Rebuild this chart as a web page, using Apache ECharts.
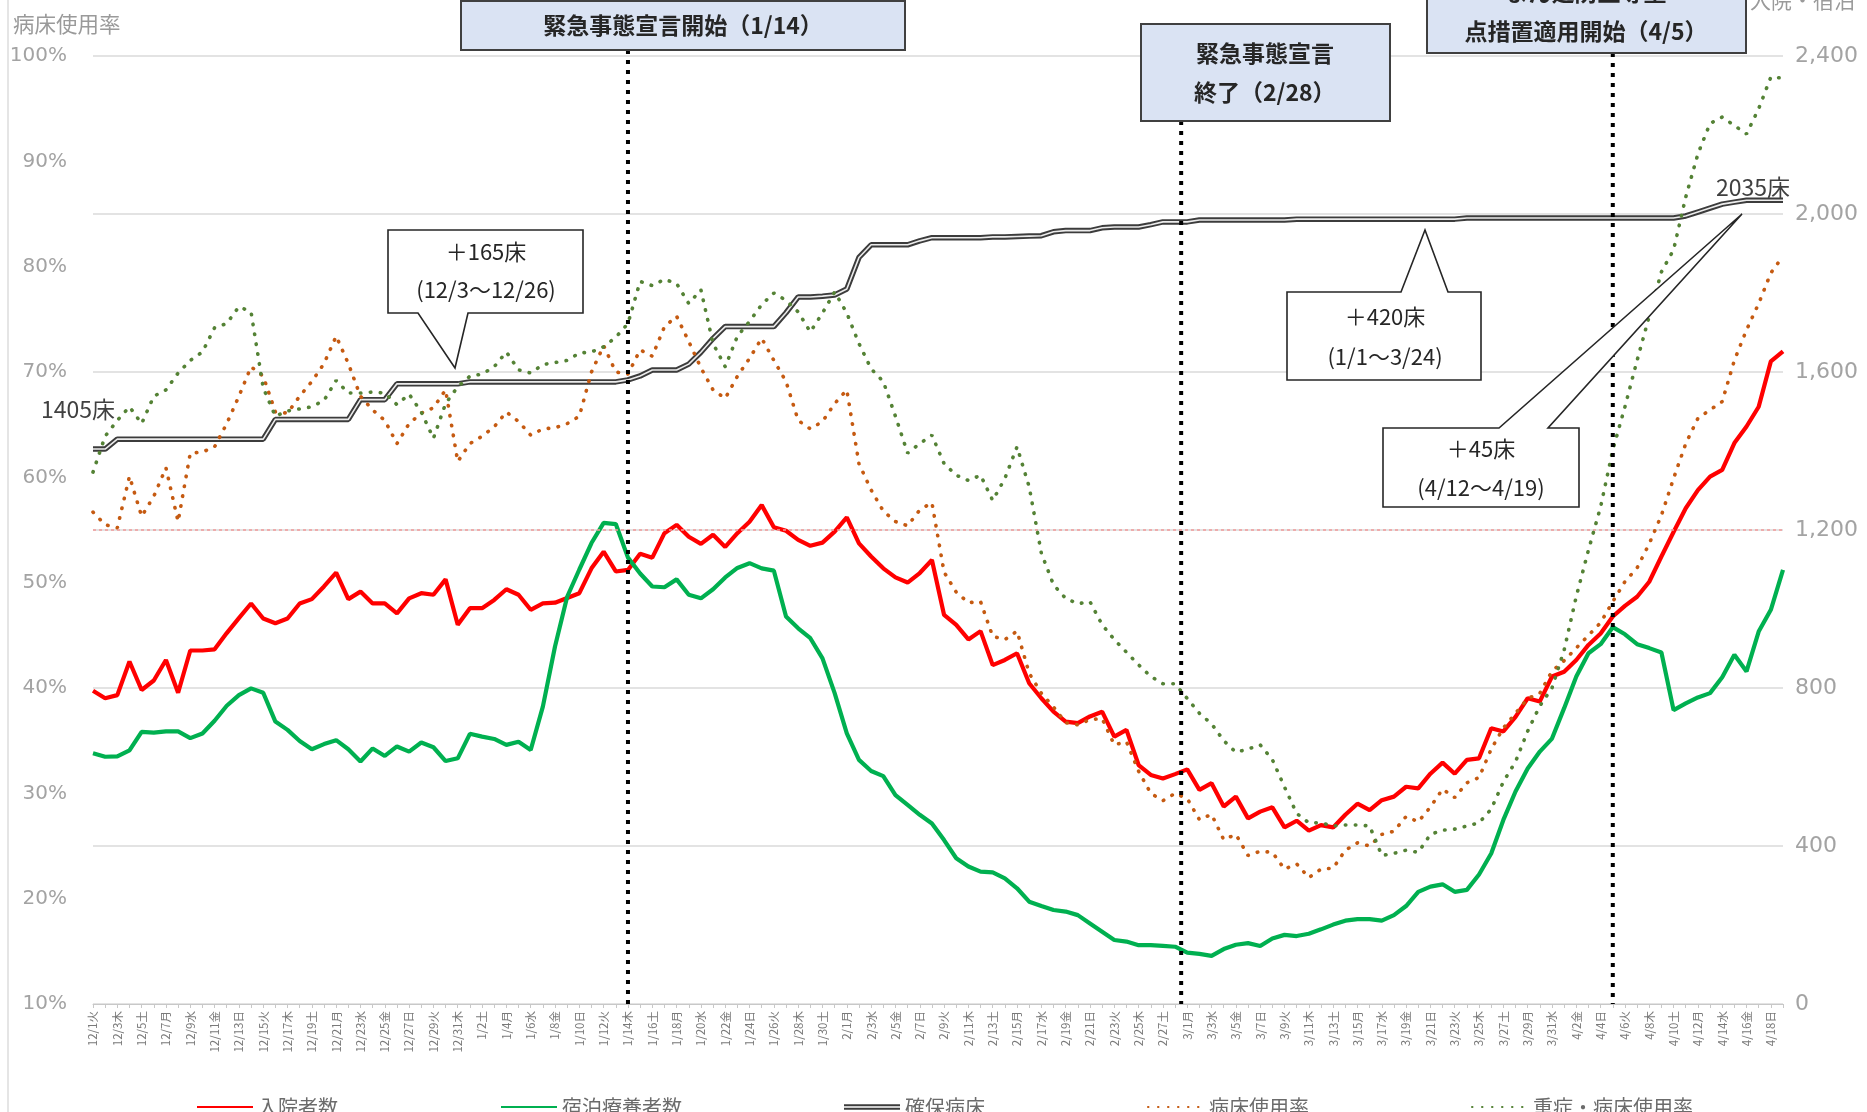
<!DOCTYPE html>
<html>
<head>
<meta charset="utf-8">
<script src="https://cdn.jsdelivr.net/npm/echarts@6/dist/echarts.min.js"></script>
<style>
html,body{margin:0;padding:0;background:#ffffff;}
#chart{width:1867px;height:1112px;}
</style>
</head>
<body>
<div id="chart"></div>
<script>
// ---- categories (x-axis tick labels) ----
const categories = [
'12/1火','12/2水','12/3木','12/4金','12/5土','12/6日','12/7月','12/8火','12/9水','12/10木','12/11金','12/12土','12/13日','12/14月','12/15火','12/16水','12/17木','12/18金','12/19土','12/20日','12/21月','12/22火','12/23水','12/24木','12/25金','12/26土','12/27日','12/28月','12/29火','12/30水','12/31木',
'1/1金','1/2土','1/3日','1/4月','1/5火','1/6水','1/7木','1/8金','1/9土','1/10日','1/11月','1/12火','1/13水','1/14木','1/15金','1/16土','1/17日','1/18月','1/19火','1/20水','1/21木','1/22金','1/23土','1/24日','1/25月','1/26火','1/27水','1/28木','1/29金','1/30土','1/31日',
'2/1月','2/2火','2/3水','2/4木','2/5金','2/6土','2/7日','2/8月','2/9火','2/10水','2/11木','2/12金','2/13土','2/14日','2/15月','2/16火','2/17水','2/18木','2/19金','2/20土','2/21日','2/22月','2/23火','2/24水','2/25木','2/26金','2/27土','2/28日',
'3/1月','3/2火','3/3水','3/4木','3/5金','3/6土','3/7日','3/8月','3/9火','3/10水','3/11木','3/12金','3/13土','3/14日','3/15月','3/16火','3/17水','3/18木','3/19金','3/20土','3/21日','3/22月','3/23火','3/24水','3/25木','3/26金','3/27土','3/28日','3/29月','3/30火','3/31水',
'4/1木','4/2金','4/3土','4/4日','4/5月','4/6火','4/7水','4/8木','4/9金','4/10土','4/11日','4/12月','4/13火','4/14水','4/15木','4/16金','4/17土','4/18日','4/19月'
];

// ---- series values ----
// 入院者数 (right axis, persons)
const hospitalized = [
793,774,782,867,795,819,871,788,895,895,
898,939,977,1014,976,964,976,1014,1025,1057,
1092,1025,1044,1014,1014,989,1027,1040,1036,1075,
960,1002,1002,1023,1050,1036,998,1014,1016,1028,
1040,1103,1145,1095,1099,
1140,1130,1192,1213,1183,
1165,1188,1157,1192,1221,1263,1207,1198,1175,1160,
1168,1196,1232,1166,1133,1103,1080,1067,1091,
1124,985,960,923,944,858,871,888,812,774,740,
715,711,728,740,677,694,605,580,571,582,594,
542,559,500,525,470,487,498,447,464,
439,453,447,479,507,491,516,525,550,546,
583,611,583,618,622,698,690,727,774,766,
829,841,871,909,938,981,1008,1031,1069,1133,
1195,1255,1301,1335,1352,1420,1462,1512,1627,1652
];
// 宿泊療養者数 (right axis, persons)
const hotelCare = [
635,626,627,642,689,687,690,690,673,685,
717,755,782,799,788,715,694,666,645,658,
668,645,614,647,628,652,639,662,650,615,
622,684,677,671,656,664,643,753,905,1031,
1100,1167,1218,1215,1130,
1090,1057,1055,1075,1036,
1027,1050,1080,1104,1116,1103,1097,981,951,926,
875,787,685,618,590,577,529,504,479,
457,415,369,348,335,333,318,293,259,248,238,
234,225,204,183,162,158,149,149,147,145,130,
127,122,139,150,154,147,166,175,172,
178,189,201,211,215,215,211,225,248,284,
297,303,284,289,328,381,466,538,596,639,
672,749,829,888,911,954,936,911,901,890,
744,761,776,787,827,884,842,943,998,1099
];
// 確保病床 (right axis, beds)
const securedBeds = [
1405,1405,1430,1430,1430,1430,1430,1430,1430,1430,
1430,1430,1430,1430,1430,1480,1480,1480,1480,1480,
1480,1480,1530,1530,1530,1570,1570,1570,1570,1570,
1570,1575,1575,1575,1575,1575,1575,1575,1575,1575,
1575,1575,1575,1575,1580,
1590,1605,1605,1605,1620,
1650,1685,1715,1715,1715,1715,1715,1750,1790,1790,
1792,1795,1810,1890,1922,1922,1922,1922,1932,
1940,1940,1940,1940,1940,1942,1942,1943,1944,1945,1955,
1958,1958,1958,1965,1967,1967,1967,1973,1980,1980,1980,
1985,1985,1985,1985,1985,1985,1985,1985,1987,
1987,1987,1987,1987,1987,1987,1987,1987,1987,1987,
1987,1987,1987,1990,1990,1990,1990,1990,1990,1990,
1990,1990,1990,1990,1990,1990,1990,1990,1990,1990,
1990,1995,2005,2015,2025,2030,2035,2035,2035,2035
];
// 病床使用率 (left axis, %)
const bedUseRate = [
56.7,55.5,55.2,60.1,56.3,58.2,60.9,55.8,62.3,62.4,
62.9,65.1,67.7,70.5,69.6,66.2,66.1,67.7,69.1,70.8,
73.4,70.8,67.7,66.4,65.4,63.2,65.1,66.1,66.6,68.3,
61.5,63.2,63.9,64.8,66.2,65.3,64.0,64.6,64.7,65.1,
65.8,70.0,72.5,70.0,69.8,
72.1,71.5,74.3,75.3,72.9,
70.4,68.3,67.5,69.6,71.3,73.2,71.1,69.1,65.4,64.6,
65.3,67.0,68.3,61.3,58.8,56.8,55.8,55.4,56.9,
57.6,51.0,49.1,48.1,48.2,44.9,44.6,45.4,41.4,39.5,38.2,
36.7,36.5,37.0,37.1,34.6,34.9,32.1,30.0,29.3,30.0,29.5,
27.5,28.0,25.6,26.1,24.1,24.5,24.4,22.8,23.3,
22.0,22.8,22.9,24.6,25.3,25.0,26.1,26.4,27.8,27.3,
28.7,30.4,29.6,31.0,31.5,34.2,36.2,37.6,39.0,39.5,
41.6,42.6,43.8,45.0,46.2,48.2,50.1,51.4,53.7,56.4,
59.9,63.2,65.6,66.4,67.2,71.1,74.0,76.5,79.4,81.0
];
// 重症・病床使用率 (left axis, %)
const severeUseRate = [
60.5,63.9,65.4,66.7,65.1,67.7,68.3,69.9,71.1,71.9,
74.2,74.6,76.2,75.7,68.5,65.8,66.3,66.5,66.7,67.3,
69.2,68.0,68.0,68.1,68.0,66.9,67.9,66.2,63.7,67.0,
68.6,69.6,69.8,70.5,71.9,70.2,69.9,70.7,70.9,71.1,
71.8,71.9,72.4,73.3,74.6,
78.6,78.2,78.8,78.4,76.5,
77.8,72.7,70.5,73.4,74.8,76.4,77.5,76.8,75.7,73.8,
75.6,77.6,75.6,72.7,70.3,69.1,65.8,62.3,63.2,
64.0,61.3,60.2,59.7,60.2,57.8,59.9,62.9,59.1,52.8,49.8,
48.5,48.0,48.2,46.0,44.6,43.4,42.2,41.1,40.4,40.4,39.0,
37.6,36.6,35.0,33.9,34.2,34.6,33.2,30.6,28.1,
27.2,27.2,26.9,27.0,27.0,26.9,24.1,24.3,24.6,24.4,
26.1,26.5,26.6,26.9,27.2,28.5,31.1,33.0,35.9,38.3,
40.0,43.6,48.7,53.1,57.2,62.6,66.7,71.1,75.3,79.5,
81.6,86.6,90.7,93.6,94.2,93.4,92.6,95.0,98.0,97.9
];

// ---- axis ticks ----
const leftTicks = {min: 10, max: 100, interval: 10};
const rightTicks = {min: 0, max: 2400, interval: 400};
const thresholdLine = 1200;

// ---- annotation dates (category labels) ----
const eventDates = ['1/14木', '2/28日', '4/5月'];

const FONT = '"Noto Sans CJK JP", "Noto Sans", sans-serif';
const NUMFONT = '"DejaVu Sans", "Noto Sans", sans-serif';
const chart = echarts.init(document.getElementById('chart'), null, {renderer: 'canvas'});

const dottedStyle = (color) => ({color: color, width: 3.6, type: [0.5, 9.5], cap: 'round'});

const option = {
  animation: false,
  backgroundColor: '#ffffff',
  textStyle: {fontFamily: FONT},
  grid: {left: 93, right: 84, top: 56, bottom: 108},
  legend: {
    left: 191, top: 1092,
    itemGap: 162, itemWidth: 56, itemHeight: 10,
    itemStyle: {opacity: 0},
    textStyle: {fontSize: 20, color: '#6b6b6b', fontFamily: FONT},
    data: [
      {name: '入院者数'},
      {name: '宿泊療養者数'},
      {name: '確保病床', icon: 'path://M0,0H100V3.5H0Z M0,6.5H100V10H0Z', itemStyle: {opacity: 1}},
      {name: '病床使用率'},
      {name: '重症・病床使用率'}
    ]
  },
  xAxis: {
    type: 'category',
    data: categories,
    boundaryGap: false,
    axisLine: {lineStyle: {color: '#c8c8c8', width: 1}},
    axisTick: {show: true, interval: 0, length: 4, lineStyle: {color: '#c8c8c8'}},
    axisLabel: {interval: 1, rotate: 90, fontSize: 11.5, color: '#7a7a7a', margin: 7, fontFamily: FONT},
    splitLine: {show: false}
  },
  yAxis: [
    {
      type: 'value', position: 'left',
      min: leftTicks.min, max: leftTicks.max, interval: leftTicks.interval,
      axisLine: {show: false}, axisTick: {show: false}, splitLine: {show: false},
      axisLabel: {formatter: '{value}%', fontSize: 20, color: '#a3a3a3', margin: 26, fontFamily: NUMFONT}
    },
    {
      type: 'value', position: 'right',
      min: rightTicks.min, max: rightTicks.max, interval: rightTicks.interval,
      axisLine: {show: false}, axisTick: {show: false},
      splitLine: {show: true, lineStyle: {color: '#dadada', width: 1.5}},
      axisLabel: {
        formatter: (v) => v.toLocaleString('en-US'),
        fontSize: 22, color: '#a3a3a3', margin: 12, fontFamily: NUMFONT
      }
    }
  ],
  series: [
    {
      name: '入院者数', type: 'line', yAxisIndex: 1, data: hospitalized,
      symbol: 'none', z: 3,
      lineStyle: {color: '#ff0000', width: 4.2}, itemStyle: {color: '#ff0000'},
      markLine: {
        silent: true, symbol: ['none', 'none'], label: {show: false},
        lineStyle: {color: '#f29a9a', type: [3, 3], width: 1.5},
        data: [{yAxis: thresholdLine}]
      }
    },
    {
      name: '宿泊療養者数', type: 'line', yAxisIndex: 1, data: hotelCare,
      symbol: 'none', z: 3,
      lineStyle: {color: '#00b050', width: 4.2}, itemStyle: {color: '#00b050'}
    },
    {
      name: '確保病床', type: 'line', yAxisIndex: 1, data: securedBeds,
      symbol: 'none', z: 4,
      lineStyle: {color: '#3c3c3c', width: 5.5}, itemStyle: {color: '#3c3c3c'}
    },
    {
      name: '確保病床(内)', type: 'line', yAxisIndex: 1, data: securedBeds,
      symbol: 'none', z: 5, silent: true,
      lineStyle: {color: '#ececec', width: 1.6}, itemStyle: {color: '#ececec'}
    },
    {
      name: '病床使用率', type: 'line', yAxisIndex: 0, data: bedUseRate,
      symbol: 'none', z: 6,
      lineStyle: dottedStyle('#c55a11'), itemStyle: {color: '#c55a11'}
    },
    {
      name: '重症・病床使用率', type: 'line', yAxisIndex: 0, data: severeUseRate,
      symbol: 'none', z: 6,
      lineStyle: dottedStyle('#548235'), itemStyle: {color: '#548235'}
    }
  ]
};
chart.setOption(option);

// ---- annotations ----
const xFirst = chart.convertToPixel({xAxisIndex: 0}, categories[0]);
const xLast = chart.convertToPixel({xAxisIndex: 0}, categories[categories.length - 1]);
const xAt = (i) => xFirst + (xLast - xFirst) * i / (categories.length - 1);
const yBottom = chart.convertToPixel({yAxisIndex: 1}, rightTicks.min);

const txt = (x, y, text, size, extra) => ({
  type: 'text', x: x, y: y, z: 120,
  style: Object.assign({
    text: text, fontSize: size, fontFamily: FONT, fill: '#262626',
    align: 'center', verticalAlign: 'middle'
  }, extra || {})
});

const g = [];
// left border of the chart frame
g.push({type: 'line', z: 1, shape: {x1: 8, y1: 0, x2: 8, y2: 1112}, style: {stroke: '#d4d4d4', lineWidth: 1.2}});

// vertical event lines
const eventLines = [
  {idx: categories.indexOf(eventDates[0]), top: 50},
  {idx: categories.indexOf(eventDates[1]) + 0.5, top: 121},
  {idx: categories.indexOf(eventDates[2]), top: 53}
];
eventLines.forEach(e => {
  const x = xAt(e.idx);
  g.push({type: 'line', z: 90, shape: {x1: x, y1: e.top, x2: x, y2: yBottom},
    style: {stroke: '#000000', lineWidth: 4, lineDash: [4, 6]}});
});

// event boxes
const boxStyle = {fill: '#dae3f3', stroke: '#404040', lineWidth: 2};
const bold = {fontWeight: 'bold'};
g.push({type: 'rect', z: 110, shape: {x: 461, y: 1, width: 444, height: 49}, style: boxStyle});
g.push(txt(683, 25, '緊急事態宣言開始（1/14）', 23, bold));

g.push({type: 'rect', z: 110, shape: {x: 1141, y: 24, width: 249, height: 97}, style: boxStyle});
g.push(txt(1196, 53, '緊急事態宣言', 23, {fontWeight: 'bold', align: 'left'}));
g.push(txt(1194, 92, '終了（2/28）', 23, {fontWeight: 'bold', align: 'left'}));

g.push({type: 'rect', z: 110, shape: {x: 1427, y: -45, width: 319, height: 98}, style: boxStyle});
g.push(txt(1586, -8, 'まん延防止等重', 23, bold));
g.push(txt(1586, 31, '点措置適用開始（4/5）', 23, bold));

// callouts
const calloutStyle = {fill: '#ffffff', stroke: '#262626', lineWidth: 1.6};
g.push({type: 'polygon', z: 110, shape: {points: [[388,230],[583,230],[583,313],[468,313],[455,368],[418,313],[388,313]]}, style: calloutStyle});
g.push(txt(486, 252, '＋165床', 22));
g.push(txt(486, 290, '(12/3～12/26)', 22));

g.push({type: 'polygon', z: 110, shape: {points: [[1287,292],[1401,292],[1425,230],[1448,292],[1481,292],[1481,380],[1287,380]]}, style: calloutStyle});
g.push(txt(1385, 317, '＋420床', 22));
g.push(txt(1385, 357, '(1/1～3/24)', 22));

g.push({type: 'polygon', z: 110, shape: {points: [[1383,428],[1499,428],[1742,214],[1548,428],[1579,428],[1579,507],[1383,507]]}, style: calloutStyle});
g.push(txt(1481, 449, '＋45床', 22));
g.push(txt(1481, 488, '(4/12～4/19)', 22));

// bed count labels
g.push(txt(41, 409, '1405床', 23, {align: 'left', fill: '#404040'}));
g.push(txt(1716, 187, '2035床', 23, {align: 'left', fill: '#404040'}));

// axis names
g.push(txt(13, 24, '病床使用率', 21.5, {align: 'left', fill: '#9a9a9a'}));
g.push(txt(1750, 0, '入院・宿泊', 21, {align: 'left', fill: '#9a9a9a'}));

chart.setOption({graphic: g});
</script>
</body>
</html>
